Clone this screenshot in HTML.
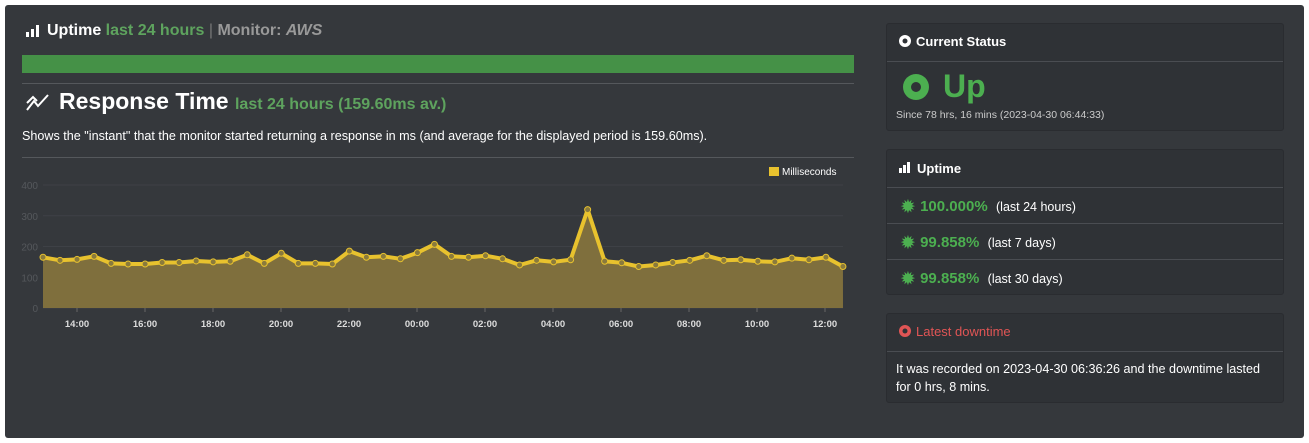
<!DOCTYPE html>
<html><head><meta charset="utf-8"><style>
body{margin:0;background:#fff;width:1309px;height:443px;position:relative;font-family:"Liberation Sans",sans-serif;overflow:hidden}
.card{position:absolute;left:5px;top:5px;width:1299px;height:433px;background:#35383c;border-radius:3px}
.a{position:absolute;white-space:nowrap}
.p{position:absolute;left:886px;width:398px;background:#2f3236;border:1px solid #2a2c30;border-radius:3px;box-sizing:border-box}
.hd{position:absolute;left:0;right:0;border-bottom:1px solid #4a4d52}
.g{color:#4caf50;font-weight:bold}
.st{color:#4caf50;font-size:19px;vertical-align:-2px}
</style></head><body>
<div class="card"></div>
<svg class="a" style="left:26px;top:25px" width="14" height="13"><rect x="0" y="7" width="3" height="5" fill="#fff"/><rect x="5" y="4" width="3" height="8" fill="#fff"/><rect x="10" y="0" width="3" height="12" fill="#fff"/></svg>
<div class="a" style="left:47px;top:22px;font-size:16px;color:#fff;font-weight:bold">Uptime <span style="color:#5ea35e;font-weight:bold">last 24 hours</span> <span style="color:#777;font-weight:normal">|</span> <span style="color:#999">Monitor: <i>AWS</i></span></div>
<div class="a" style="left:22px;top:55px;width:832px;height:18px;background:#459147"></div>
<div class="a" style="left:22px;top:83px;width:832px;height:1px;background:#55585c"></div>
<svg class="a" style="left:26px;top:92px" width="24" height="20"><polyline points="1,18 8,9 12,14 22,3" fill="none" stroke="#fff" stroke-width="2"/><polyline points="1,11 7,5 11,9" fill="none" stroke="#fff" stroke-width="2"/></svg>
<div class="a" style="left:59px;top:88px;font-size:23px;color:#fff;font-weight:bold">Response Time <span style="font-size:16px;color:#5ea35e">last 24 hours (159.60ms av.)</span></div>
<div class="a" style="left:22px;top:129px;font-size:12.6px;color:#fff">Shows the "instant" that the monitor started returning a response in ms (and average for the displayed period is 159.60ms).</div>
<div class="a" style="left:22px;top:157px;width:832px;height:1px;background:#55585c"></div>
<svg class="a" style="left:0;top:160px" width="870" height="180" id="ch"></svg>
<div class="p" style="top:23px;height:108px"><div class="hd" style="top:0;height:37px"></div>
<svg class="a" style="left:11px;top:10px" width="14" height="14"><circle cx="7" cy="7" r="6" fill="#fff"/><circle cx="7" cy="7" r="2.5" fill="#2f3236"/></svg>
<div class="a" style="left:29px;top:10px;font-size:13px;color:#fff;font-weight:bold">Current Status</div>
<svg class="a" style="left:15px;top:49px" width="28" height="28"><circle cx="14" cy="14" r="13" fill="#4caf50"/><circle cx="14" cy="14" r="5" fill="#2f3236"/></svg>
<div class="a g" style="left:56px;top:44px;font-size:32px">Up</div>
<div class="a" style="left:9px;top:85px;font-size:10.5px;color:#ccc">Since 78 hrs, 16 mins (2023-04-30 06:44:33)</div></div>
<div class="p" style="top:149px;height:146px"><div class="hd" style="top:0;height:37px"></div><div class="hd" style="top:37px;height:36px"></div><div class="hd" style="top:73px;height:36px"></div>
<svg class="a" style="left:12px;top:12px" width="13" height="12"><rect x="0" y="6" width="3" height="5" fill="#fff"/><rect x="4" y="3" width="3" height="8" fill="#fff"/><rect x="8" y="0" width="3" height="11" fill="#fff"/></svg>
<div class="a" style="left:30px;top:11px;font-size:13px;color:#fff;font-weight:bold">Uptime</div>
<div class="a" style="left:13px;top:46px;font-size:15px;color:#fff"><span class="st">✹</span> <span class="g">100.000%</span> &nbsp;<span style="font-size:12.5px">(last 24 hours)</span></div>
<div class="a" style="left:13px;top:82px;font-size:15px;color:#fff"><span class="st">✹</span> <span class="g">99.858%</span> &nbsp;<span style="font-size:12.5px">(last 7 days)</span></div>
<div class="a" style="left:13px;top:118px;font-size:15px;color:#fff"><span class="st">✹</span> <span class="g">99.858%</span> &nbsp;<span style="font-size:12.5px">(last 30 days)</span></div></div>
<div class="p" style="top:313px;height:90px"><div class="hd" style="top:0;height:37px"></div>
<svg class="a" style="left:11px;top:10px" width="14" height="14"><circle cx="7" cy="7" r="6" fill="#e05555"/><circle cx="7" cy="7" r="2.5" fill="#2f3236"/></svg>
<div class="a" style="left:29px;top:10px;font-size:13px;color:#e05555">Latest downtime</div>
<div class="a" style="left:9px;top:46px;font-size:12.6px;color:#fff;line-height:18px">It was recorded on 2023-04-30 06:36:26 and the downtime lasted<br>for 0 hrs, 8 mins.</div></div>
<script>
var v=[165,155,158,168,145,143,143,148,148,153,150,152,173,145,178,145,145,143,185,165,168,160,180,207,168,165,170,160,140,155,150,157,320,152,147,135,140,148,155,170,155,157,152,150,162,157,165,135];
var s='',y0=148,k=123/400;
for(var i=0;i<=4;i++){var y=y0-i*100*k;s+='<line x1="43" x2="843" y1="'+y+'" y2="'+y+'" stroke="#3e4146"/><text x="38" y="'+(y+4)+'" font-size="10" fill="#55585c" text-anchor="end">'+(i*100)+'</text>';}
var pts=v.map(function(d,i){return (43+i*17.02)+','+(y0-d*k).toFixed(1)}).join(' ');
s+='<polygon points="43,'+y0+' '+pts+' 843,'+y0+'" fill="#7f6f3d"/><polyline points="'+pts+'" fill="none" stroke="#e8c22e" stroke-width="4" stroke-linejoin="round"/>';
v.forEach(function(d,i){s+='<circle cx="'+(43+i*17.02)+'" cy="'+(y0-d*k)+'" r="3" fill="#8a7a3c" stroke="#e8c22e" stroke-width="1"/>'});
var L=['14:00','16:00','18:00','20:00','22:00','00:00','02:00','04:00','06:00','08:00','10:00','12:00'];
L.forEach(function(t,i){var x=77+i*68;s+='<line x1="'+x+'" x2="'+x+'" y1="148" y2="152" stroke="#666"/><text x="'+x+'" y="167" font-size="9.5" font-weight="bold" fill="#ddd" text-anchor="middle">'+t+'</text>'});
s+='<rect x="769" y="7" width="10" height="9" fill="#e8c22e"/><text x="782" y="15" font-size="10" fill="#fff">Milliseconds</text>';
document.getElementById('ch').innerHTML=s;
</script>
</body></html>
